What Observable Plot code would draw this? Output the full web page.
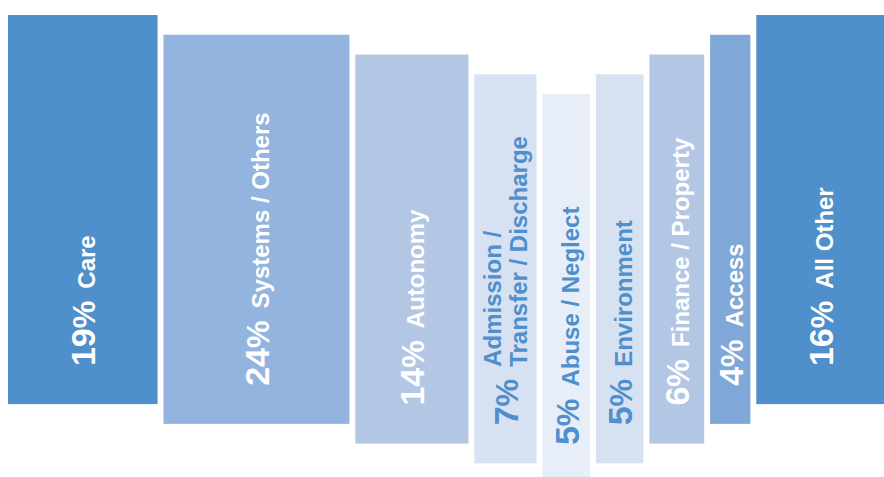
<!DOCTYPE html>
<html>
<head>
<meta charset="utf-8">
<script src="https://cdn.jsdelivr.net/npm/d3@7"></script>
<script src="https://cdn.jsdelivr.net/npm/@observablehq/plot@0.6"></script>
<style>
  html, body { margin: 0; padding: 0; background: #fff; overflow: hidden; }
  #chart svg { display: block; }
</style>
</head>
<body>
<div id="chart"></div>
<script>
// ---- data ----
const categories = [
  "Care",
  "Systems / Others",
  "Autonomy",
  "Admission /\nTransfer / Discharge",
  "Abuse / Neglect",
  "Environment",
  "Finance / Property",
  "Access",
  "All Other"
];
const shares = [19, 24, 14, 7, 5, 5, 6, 4, 16]; // percent

// ---- styling / layout ----
const palette = ["#4f8fcb", "#93b4de", "#b3c7e5", "#d6e1f2", "#e8eef8", "#d6e1f2", "#b3c7e5", "#7fa7d7", "#4f8fcb"];
const darkText = "#4f8fcb";
const PAD = 1.53;    // extra width units per column
const GAP = 0.81;    // gap units between columns
const BAR_H = 19.7;  // column height in step units
const Y_MAX = 23.39; // visible step units
const LABEL_UP = 1.95; // label start above column bottom (step units)

const n = categories.length;
let cursor = 0;
const rows = categories.map((label, i) => {
  const w = shares[i] + PAD;
  const x1 = cursor, x2 = cursor + w;
  cursor = x2 + GAP;
  const step = Math.min(i, n - 1 - i);
  const color = palette[i];
  const light = d3.lab(color).l > 85;
  return {label, pct: shares[i], x1, x2, xm: (x1 + x2) / 2, y1: step, y2: step + BAR_H,
          ty: step + BAR_H - LABEL_UP, color, text: light ? darkText : "#ffffff"};
});
const totalX = cursor - GAP;

const svg = Plot.plot({
  width: 884,
  height: 477,
  marginTop: 15,
  marginBottom: 0,
  marginLeft: 8,
  marginRight: 0,
  x: {domain: [0, totalX], axis: null},
  y: {domain: [0, Y_MAX], reverse: true, axis: null},
  color: {type: "identity"},
  style: {fontFamily: "'Liberation Sans', Arial, Helvetica, sans-serif", background: "#fff"},
  marks: [
    Plot.rect(rows, {x1: "x1", x2: "x2", y1: "y1", y2: "y2", fill: d => d.color}),
    Plot.text(rows, {
      x: "xm", y: "ty",
      text: d => d.pct + "% " + d.label,
      rotate: -90,
      textAnchor: "start",
      lineAnchor: "bottom",
      fontSize: 24,
      fontWeight: "bold",
      fontFamily: "'Liberation Sans', Arial, Helvetica, sans-serif",
      fill: d => d.text
    })
  ]
});
document.getElementById("chart").appendChild(svg);

// rebuild each label as percent (large) + category (smaller)
d3.select(svg).selectAll('g[aria-label="text"] text').each(function (i) {
  const row = rows[i];
  const t = d3.select(this);
  t.text(null).attr("y", null).attr("dy", null);
  t.append("tspan").attr("x", 0).attr("y", 12).attr("font-size", 34).text(String(row.pct));
  t.append("tspan").attr("font-size", 31).text("%");
  const lines = row.label.split("\n");
  if (lines.length === 1) {
    t.append("tspan").attr("dx", 12).text(lines[0]);
  } else {
    const L = this.getComputedTextLength();
    lines.forEach((ln, k) => {
      t.append("tspan").attr("x", L + 12).attr("y", k === 0 ? -4.5 : 21.5).text(ln);
    });
  }
});
</script>
</body>
</html>
